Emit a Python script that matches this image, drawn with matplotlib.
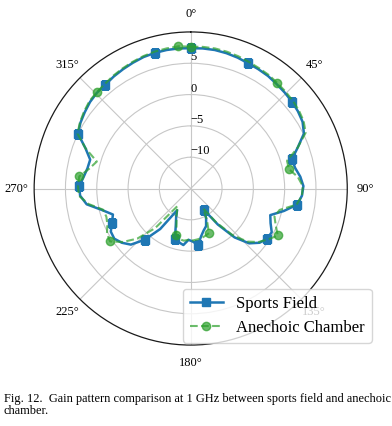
import numpy as np
import matplotlib.pyplot as plt

plt.rcParams['font.family'] = ['Liberation Serif', 'DejaVu Serif']

# measurement angles (deg), 74 samples closing the loop
angles_deg = np.linspace(0, 360, 74)

sports_field = [
    7.4, 7.45, 7.45, 7.35, 7.2, 7.0, 6.9, 6.8, 6.6, 6.45,
    6.3, 6.1, 5.8, 5.1, 3.3, 1.8, 2.0, 2.6, 3.0, 2.8,
    2.2, 0.3, -1.6, -1.1, -0.3, -0.4, -1.0, -2.2, -4.5, -7.8,
    -10.9, -9.6, -8.5, -8.0, -7.2, -5.9, -6.5, -6.8, -5.9, -6.2,
    -6.5, -8.7, -9.9, -10.9, -6.9, -4.0, -1.9, -1.0, -0.4, -0.5,
    -1.3, -1.9, -0.4, 1.8, 2.7, 2.8, 2.2, 1.8, 1.7, 3.0,
    5.0, 5.5, 5.85, 6.2, 6.4, 6.45, 6.7, 6.9, 7.1, 7.3,
    7.4, 7.45, 7.45, 7.4,
]

anechoic_chamber = [
    7.65, 7.7, 7.7, 7.6, 7.45, 7.25, 7.1, 7.0, 6.8, 6.65,
    6.5, 6.3, 6.0, 5.4, 3.3, 1.0, 1.0, 2.2, 2.9, 2.8,
    2.1, -0.4, -0.9, -0.2, 0.8, -0.2, -1.2, -2.6, -5.0, -8.2,
    -11.2, -9.3, -7.3, -7.1, -6.9, -6.8, -6.7, -6.8, -6.6, -6.7,
    -7.3, -9.0, -10.0, -10.9, -11.5, -6.5, -3.3, -1.2, 0.4, 0.2,
    -0.5, -0.8, -0.6, 1.5, 2.9, 3.0, 2.9, 1.5, 0.6, 3.0,
    5.1, 5.6, 6.0, 6.35, 6.5, 6.6, 6.85, 7.05, 7.25, 7.45,
    7.6, 7.7, 7.8, 7.65,
]

r_ticks = [-10, -5, 0, 5]
theta_ticks = [0, 45, 90, 135, 180, 225, 270, 315]

caption = ('Fig. 12.  Gain pattern comparison at 1 GHz between sports field and anechoic\n'
           'chamber.')

fig = plt.figure(figsize=(3.92, 4.26), dpi=100)
ax = fig.add_axes([0.087, 0.190, 0.799, 0.735], projection='polar')
ax.set_theta_zero_location('N')
ax.set_theta_direction(-1)

theta = np.deg2rad(angles_deg)
ax.plot(theta, sports_field, color='#1f77b4', lw=1.8, marker='s', ms=6,
        markevery=5, label='Sports Field')
ax.plot(theta, anechoic_chamber, color='#2ca02c', alpha=0.7, lw=1.5, ls='--',
        marker='o', ms=6, markevery=8, label='Anechoic Chamber')

ax.set_ylim(-15, 10)
ax.set_yticks(r_ticks)
ax.set_rlabel_position(0)
ax.set_xticks(np.deg2rad(theta_ticks))
ax.set_xticklabels([f'{t}°' for t in theta_ticks])
ax.tick_params(axis='x', labelsize=9, pad=2.5)
ax.tick_params(axis='y', labelsize=9)
ax.grid(color='0.78', lw=0.8)
ax.spines['polar'].set_color('0.1')
ax.spines['polar'].set_linewidth(0.9)

ax.legend(loc='lower right', bbox_to_anchor=(0.969, 0.176),
          bbox_transform=fig.transFigure, fontsize=12, handlelength=2)

fig.text(0.01, 0.078, caption, fontsize=8.9, va='top', ha='left', linespacing=1.0)

fig.savefig('out.png', dpi=100)
